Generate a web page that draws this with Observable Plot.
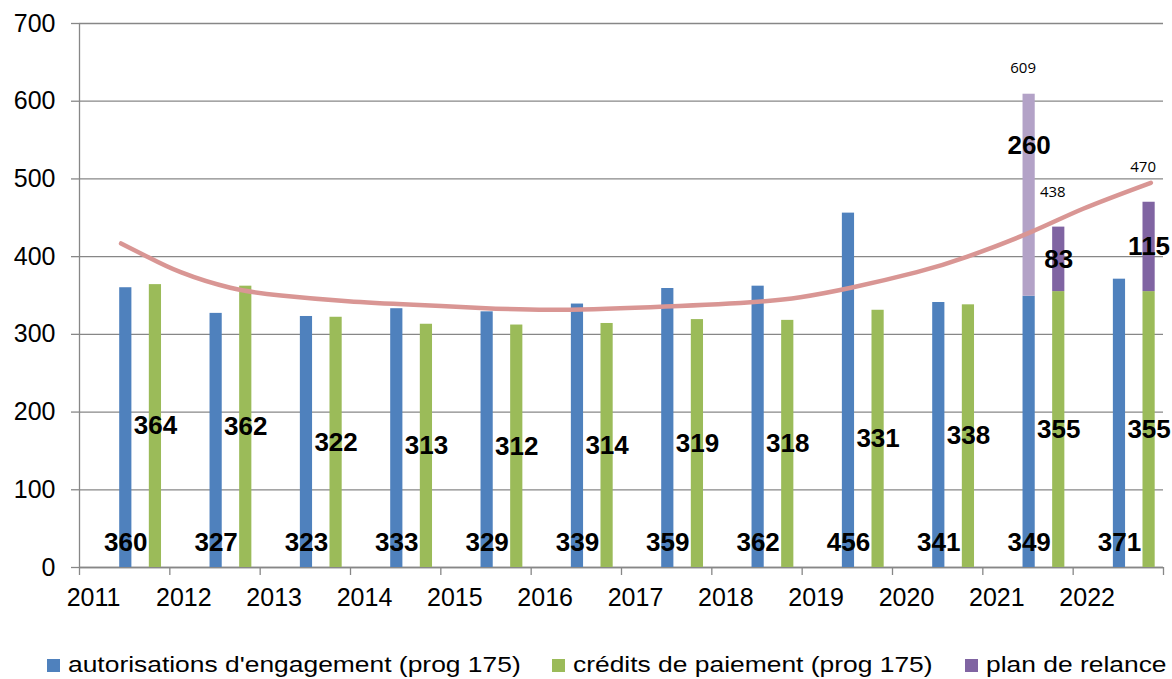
<!DOCTYPE html>
<html>
<head>
<meta charset="utf-8">
<script src="https://cdn.jsdelivr.net/npm/d3@7"></script>
<script src="https://cdn.jsdelivr.net/npm/@observablehq/plot@0.6"></script>
<style>
  html, body { margin: 0; padding: 0; background: #fff; }
  #wrap { position: relative; width: 1172px; height: 679px; font-family: "Liberation Sans", Arial, sans-serif; }
  .leg { position: absolute; top: 652px; display: flex; align-items: center; font-size: 22px; color: #000; white-space: nowrap; }
  .sw { width: 13px; height: 13px; margin-right: 8px; flex: none; }
  .lt { display: inline-block; transform: scaleX(1.2); transform-origin: left center; }
</style>
</head>
<body>
<div id="wrap"></div>
<script>
const years = [2011, 2012, 2013, 2014, 2015, 2016, 2017, 2018, 2019, 2020, 2021, 2022];
const ae = [360, 327, 323, 333, 329, 339, 359, 362, 456, 341, 349, 371];
const cp = [364, 362, 322, 313, 312, 314, 319, 318, 331, 338, 355, 355];
const relanceAE = [0, 0, 0, 0, 0, 0, 0, 0, 0, 0, 260, 0];
const relanceCP = [0, 0, 0, 0, 0, 0, 0, 0, 0, 0, 83, 115];
const yTicks = [0, 100, 200, 300, 400, 500, 600, 700];
// trend curve (x in fractional years)
const trendX = [2011.46, 2011.75, 2012.12, 2012.67, 2013.23, 2013.97, 2014.70, 2015.44, 2016.21, 2017.32, 2018.43, 2018.98, 2019.54, 2020.27, 2020.83, 2021.53, 2022.11, 2022.86];
const trendY = [417, 400, 380, 360, 350, 342.6, 338, 334, 331.6, 335, 341.4, 347.8, 360, 380, 400, 431.5, 461.6, 495];
const seriesNames = ["autorisations d'engagement (prog 175)", "crédits de paiement (prog 175)", "plan de relance"];

const C_AE = "#4f81bd", C_CP = "#9bbb59", C_PR = "#8064a2", C_PR_LIGHT = "#b3a2c7", GRAY = "#878787";
const AE_OFF = 0.445, CP_OFF = 0.773, BW = 0.135;

const rows = years.map((y, i) => ({year: y, ae: ae[i], cp: cp[i], rae: relanceAE[i], rcp: relanceCP[i]}));
const raeRows = rows.filter(d => d.rae > 0);
const rcpRows = rows.filter(d => d.rcp > 0);
const trend = trendX.map((x, i) => ({x, y: trendY[i]}));
const bounds = d3.range(years[0], years[years.length - 1] + 2);

const aeC = d => d.year + AE_OFF + BW / 2;
const cpC = d => d.year + CP_OFF + BW / 2;

const chart = Plot.plot({
  width: 1172,
  height: 630,
  marginTop: 23,
  marginBottom: 63,
  marginLeft: 79,
  marginRight: 9,
  x: {type: "linear", domain: [2011, 2023], axis: null},
  y: {domain: [0, 700], axis: null},
  style: {fontFamily: "'Liberation Sans', Arial, sans-serif", background: "white", overflow: "visible"},
  marks: [
    Plot.gridY(yTicks, {stroke: GRAY, strokeOpacity: 1, strokeWidth: 1.3}),
    Plot.axisY({ticks: yTicks, label: null, tickSize: 8, tickFormat: () => "", stroke: GRAY, strokeOpacity: 1, strokeWidth: 1.3}),
    Plot.axisY({ticks: yTicks, label: null, tickSize: 0, tickPadding: 24, fontSize: 25, fill: "black", tickFormat: d => String(d)}),
    Plot.axisX({ticks: bounds, label: null, tickSize: 8, tickFormat: () => "", stroke: GRAY, strokeOpacity: 1, strokeWidth: 1.3}),
    Plot.axisX({ticks: years, label: null, tickSize: 0, tickPadding: 21, dx: 14, fontSize: 25, fill: "black", tickFormat: d => String(d)}),
    Plot.ruleX([2011], {stroke: GRAY, strokeWidth: 1.3}),
    Plot.ruleY([0], {stroke: GRAY, strokeWidth: 1.3}),
    // bars
    Plot.rectY(rows, {x1: d => d.year + AE_OFF, x2: d => d.year + AE_OFF + BW, y1: 0, y2: "ae", fill: C_AE}),
    Plot.rectY(rows, {x1: d => d.year + CP_OFF, x2: d => d.year + CP_OFF + BW, y1: 0, y2: "cp", fill: C_CP}),
    Plot.rectY(raeRows, {x1: d => d.year + AE_OFF, x2: d => d.year + AE_OFF + BW, y1: "ae", y2: d => d.ae + d.rae, fill: C_PR_LIGHT}),
    Plot.rectY(rcpRows, {x1: d => d.year + CP_OFF, x2: d => d.year + CP_OFF + BW, y1: "cp", y2: d => d.cp + d.rcp, fill: C_PR}),
    // trend
    Plot.line(trend, {x: "x", y: "y", curve: "natural", stroke: "#d99694", strokeWidth: 4.5, strokeLinecap: "round"}),
    // labels
    Plot.text(rows, {x: aeC, y: 0, dy: -25, text: d => String(d.ae), fontSize: 26, fontWeight: "bold", fill: "black"}),
    Plot.text(rows, {x: cpC, y: d => d.cp / 2, text: d => String(d.cp), fontSize: 26, fontWeight: "bold", fill: "black"}),
    Plot.text(raeRows, {x: aeC, y: d => d.ae + d.rae / 2, dy: -50, text: d => String(d.rae), fontSize: 26, fontWeight: "bold", fill: "black"}),
    Plot.text(rcpRows, {x: cpC, y: d => d.cp + d.rcp / 2, text: d => String(d.rcp), fontSize: 26, fontWeight: "bold", fill: "black"}),
    Plot.text(raeRows, {x: aeC, y: d => d.ae + d.rae, dx: -6, dy: -26, text: d => String(d.ae + d.rae), fontSize: 15, fontFamily: "'Open Sans', sans-serif", fill: "black"}),
    Plot.text(rcpRows, {x: cpC, y: d => d.cp + d.rcp, dx: -6, dy: -35, text: d => String(d.cp + d.rcp), fontSize: 15, fontFamily: "'Open Sans', sans-serif", fill: "black"})
  ]
});

const wrap = document.getElementById("wrap");
wrap.appendChild(chart);
const legColors = [C_AE, C_CP, C_PR];
const legLeft = [47, 552, 965];
seriesNames.forEach((name, i) => {
  const item = document.createElement("div");
  item.className = "leg";
  item.style.left = legLeft[i] + "px";
  const sw = document.createElement("div");
  sw.className = "sw";
  sw.style.background = legColors[i];
  const t = document.createElement("span");
  t.className = "lt";
  t.textContent = name;
  item.appendChild(sw);
  item.appendChild(t);
  wrap.appendChild(item);
});
</script>
</body>
</html>
